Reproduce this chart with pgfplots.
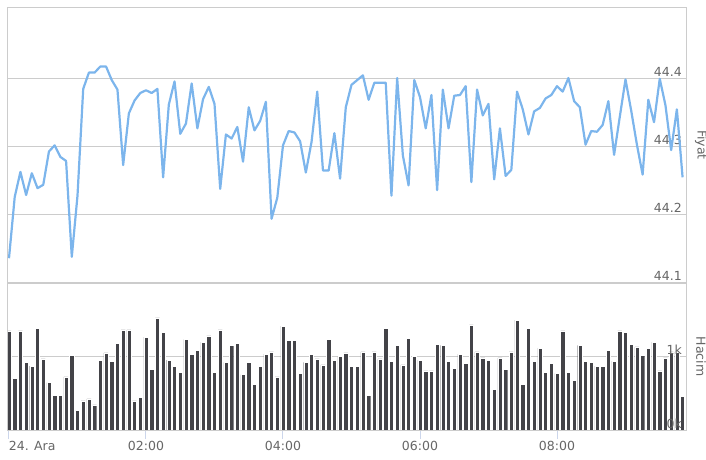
\documentclass[border=0pt]{standalone}
\usepackage{fontspec}
\setmainfont{DejaVu Sans}
\usepackage{pgfplots}
\pgfplotsset{compat=1.18}
\usepackage{pgfplotstable}

\definecolor{linec}{HTML}{7CB5EC}
\definecolor{barc}{HTML}{434348}
\definecolor{gridc}{HTML}{CCCCCC}
\definecolor{axisc}{HTML}{CCD6EB}
\definecolor{txt}{HTML}{666666}

% price, one row per 5 minutes
\pgfplotstableread{
i v
0 44.135
1 44.225
2 44.262
3 44.228
4 44.260
5 44.238
6 44.243
7 44.292
8 44.301
9 44.284
10 44.278
11 44.137
12 44.227
13 44.384
14 44.408
15 44.408
16 44.417
17 44.417
18 44.397
19 44.383
20 44.272
21 44.348
22 44.367
23 44.378
24 44.382
25 44.378
26 44.384
27 44.254
28 44.361
29 44.395
30 44.318
31 44.333
32 44.392
33 44.326
34 44.369
35 44.387
36 44.362
37 44.237
38 44.317
39 44.311
40 44.328
41 44.277
42 44.357
43 44.323
44 44.337
45 44.365
46 44.193
47 44.224
48 44.301
49 44.322
50 44.320
51 44.307
52 44.261
53 44.306
54 44.380
55 44.264
56 44.264
57 44.319
58 44.252
59 44.357
60 44.390
61 44.397
62 44.404
63 44.368
64 44.393
65 44.393
66 44.393
67 44.227
68 44.400
69 44.286
70 44.242
71 44.397
72 44.372
73 44.326
74 44.375
75 44.235
76 44.383
77 44.326
78 44.374
79 44.375
80 44.388
81 44.247
82 44.383
83 44.345
84 44.362
85 44.251
86 44.326
87 44.256
88 44.265
89 44.380
90 44.354
91 44.317
92 44.351
93 44.356
94 44.370
95 44.375
96 44.388
97 44.380
98 44.400
99 44.366
100 44.357
101 44.302
102 44.322
103 44.321
104 44.331
105 44.366
106 44.287
107 44.343
108 44.398
109 44.352
110 44.302
111 44.258
112 44.368
113 44.335
114 44.399
115 44.360
116 44.294
117 44.354
118 44.254
}\price

% volume
\pgfplotstableread{
i v
0 1341
1 700
2 1341
3 914
4 864
5 1373
6 964
7 641
8 473
9 473
10 718
11 1014
12 264
13 395
14 423
15 341
16 945
17 1045
18 932
19 1173
20 1355
21 1355
22 395
23 441
24 1259
25 818
26 1518
27 1323
28 945
29 864
30 782
31 1227
32 1027
33 1077
34 1191
35 1273
36 782
37 1355
38 914
39 1145
40 1173
41 750
42 914
43 618
44 864
45 1027
46 1059
47 718
48 1405
49 1209
50 1209
51 768
52 914
53 1027
54 964
55 882
56 1227
57 945
58 995
59 1045
60 864
61 864
62 1059
63 473
64 1059
65 964
66 1373
67 932
68 1145
69 882
70 1241
71 995
72 945
73 800
74 800
75 1159
76 1145
77 932
78 832
79 1027
80 900
81 1423
82 1059
83 977
84 945
85 555
86 977
87 818
88 1059
89 1486
90 618
91 1373
92 932
93 1109
94 782
95 900
96 768
97 1341
98 782
99 668
100 1145
101 932
102 914
103 864
104 864
105 1077
106 932
107 1341
108 1323
109 1159
110 1127
111 1014
112 1109
113 1191
114 800
115 977
116 1059
117 1059
118 455
}\volume

\tikzset{paneltitle/.style={rotate=-90, anchor=center,
  font=\fontsize{12.5}{14}\selectfont, text=txt}}

\pgfplotsset{
  panel/.style={
    scale only axis, width=679pt,
    xmin=-0.35, xmax=118.6,
    clip mode=individual,
    axis line style={draw=gridc, line width=1pt},
    grid style={draw=gridc, line width=0.8pt},
    ytick style={draw=none},
    yticklabel pos=right,
    yticklabel style={anchor=south east, xshift=-3pt, inner sep=1pt,
      font=\fontsize{12.5}{14}\selectfont, text=txt},
  },
}

\begin{document}
\begin{tikzpicture}
\useasboundingbox (0,0) rectangle (706pt,459pt);

\begin{axis}[panel,
  at={(7pt,177pt)}, anchor=south west, height=274pt,
  ymin=44.1, ymax=44.503, ymajorgrids,
  ytick={44.1,44.2,44.3,44.4}, yticklabels={44.1,44.2,44.3,44.4},
  xtick=\empty,
]
\addplot[linec, line width=2.2pt, line join=round] table[x=i, y=v] {\price};
\node[paneltitle] at ([xshift=15pt]rel axis cs:1,0.5) {Fiyat};
\end{axis}

\begin{axis}[panel,
  at={(7pt,29pt)}, anchor=south west, height=147pt,
  axis on top,
  ymin=0, ymax=1990,
  ytick={0,1000}, yticklabels={0k,1k},
  xtick={0,24,48,72,96},
  xticklabels={\rlap{24. Ara},02:00,04:00,06:00,08:00},
  xtick pos=bottom, xtick align=outside, major tick length=9pt,
  xtick style={draw=axisc, line width=1pt},
  xticklabel style={font=\fontsize{12.5}{14}\selectfont, text=txt, inner sep=2pt},
]
% 1k grid line, kept behind the bars
\draw[gridc, line width=0.8pt] (axis cs:-0.35,1000) -- (axis cs:118.6,1000);
\addplot[ybar, bar width=4.2pt, fill=barc, draw=white, line width=0.4pt] table[x=i, y=v] {\volume};
\draw[axisc, line width=1pt] (rel axis cs:0,0) -- (rel axis cs:1,0);
\node[paneltitle] at ([xshift=15pt]rel axis cs:1,0.5) {Hacim};
\end{axis}
\end{tikzpicture}
\end{document}
